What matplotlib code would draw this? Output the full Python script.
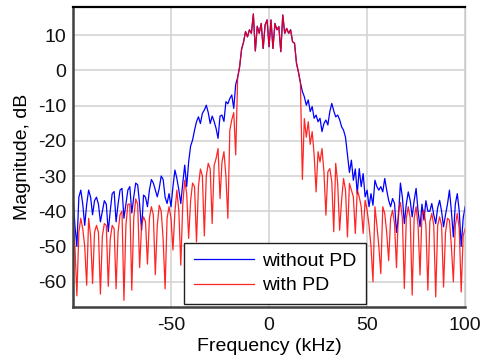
import numpy as np
import matplotlib
matplotlib.use("Agg")
import matplotlib.pyplot as plt

plt.rcParams['font.family'] = ['Liberation Sans', 'DejaVu Sans']
plt.rcParams['axes.unicode_minus'] = False

# frequency grid, kHz (1 kHz steps)
freq = np.arange(-100, 101)

# without PD, -100 .. -17 kHz
blue_left = [-35.4, -44, -50, -36, -34, -38, -44, -38, -34, -36,
             -41, -37, -36, -38, -43, -40, -37, -38, -45.8, -40,
             -35, -34.4, -43, -38, -34, -33.5, -42, -38, -34, -33,
             -40.5, -36, -32, -32.5, -38, -45.4, -35.4, -36, -38.7, -34,
             -31, -32, -34, -35.9, -33.5, -30, -31, -36, -37.8, -35,
             -38.7, -33, -28.3, -30.7, -34, -37.8, -32, -26.9, -33, -26,
             -21.5, -19.8, -17, -14.6, -13.2, -15.1, -12.2, -11.3, -9.9, -12,
             -15.1, -13, -14.5, -16.5, -19.3, -13, -12.7, -14.5, -8.9, -9.5,
             -8, -7, -10.8, -4]

# main band, -16 .. 16 kHz (both curves overlap here)
center = [-2, 1, 6, 8, 11, 9.5, 11.5, 10.5, 16, 5.5,
          12.5, 10.5, 13.3, 6.2, 12.9, 14.3, 6.7, 14.3, 6.2, 13.3,
          11.5, 12.4, 5.3, 15.7, 10.5, 11.9, 10.5, 11.5, 8.1, 7.7,
          2, -0.5, -3.5]

# without PD, 17 .. 100 kHz
blue_right = [-6, -7.5, -9.9, -8.4, -11.7, -10.3, -13.6, -12.7, -14.6, -13.6,
              -17.4, -15.1, -14.1, -15.5, -11.7, -9.4, -11.5, -13.2, -12.7, -14,
              -16, -17, -19, -24, -29, -25.5, -31.2, -28, -35, -27.9,
              -33, -29.3, -35.9, -34, -38.7, -35, -38.3, -31.2, -33, -34,
              -33, -34.5, -30.7, -34, -36.9, -38.7, -36.4, -37.8, -46, -41.6,
              -32, -36, -43.5, -38, -34.5, -37, -41.6, -37, -33.5, -40,
              -44.4, -38, -42.5, -37, -40, -40, -37.8, -41, -43.5, -39,
              -36.9, -40, -44.4, -41, -38, -34, -40, -47.3, -38, -35,
              -40, -50, -42, -38.7]

# with PD, -100 .. -17 kHz
red_left = [-42.5, -50, -64, -46, -42, -45, -50, -61, -42, -47,
            -60.5, -46, -44, -46, -63.5, -47, -43.5, -44, -61.3, -48,
            -44, -45, -62, -46, -41, -40, -65.3, -44, -38, -38,
            -62.4, -42, -36.5, -38, -56, -44, -41.6, -43, -55, -42,
            -38.7, -41, -58, -44, -38.3, -40, -48, -62, -42, -38.7,
            -42, -51, -40, -34, -40, -55.3, -38, -31.2, -35, -47.7,
            -37, -32, -33, -48.7, -33, -28, -30, -47, -30, -26.4,
            -28, -43.5, -27, -25, -22.2, -36.4, -26, -23.1, -30, -42,
            -17, -14, -12, -24]

# with PD, 17 .. 100 kHz
red_right = [-31, -13.7, -19, -14.6, -21, -17.4, -24, -34.5, -23.1, -26,
             -22.2, -28.8, -41.1, -28.8, -27.9, -31.6, -45.8, -26.4, -32, -45.4,
             -36.9, -30.7, -34, -47.3, -32.1, -34, -35.9, -46.3, -34, -35.9,
             -38.7, -46.3, -36.9, -39.7, -44, -50, -60, -38.7, -44, -50,
             -57.7, -38.7, -40.6, -46, -54, -42, -39.7, -43.5, -56, -40,
             -37.5, -42, -61.9, -42, -38.7, -42, -63.8, -42, -38.7, -44,
             -58.1, -41, -39.7, -44, -62.4, -43, -40.6, -44, -64.3, -44,
             -41.6, -44, -61.5, -46, -42, -42.5, -50, -60, -44, -40.6,
             -45, -62.9, -47, -44.9]

without_pd = np.array(blue_left + center + blue_right)
with_pd = np.array(red_left + center + red_right)

fs = 14
fig = plt.figure(figsize=(4.8, 3.63), dpi=100)
ax = fig.add_axes([0.152, 0.154, 0.817, 0.827])

ax.plot(freq, without_pd, color='#0000ff', lw=0.9, label='without PD')
ax.plot(freq, with_pd, color='#ff0000', lw=0.9, alpha=0.85, label='with PD')

ax.set_xlim(-100, 100)
ax.set_ylim(-67.2, 18)
ax.set_xticks([-50, 0, 50, 100])
ax.set_yticks([-60, -50, -40, -30, -20, -10, 0, 10])
ax.grid(True, color='#d4d4d4', lw=1.2)
ax.set_axisbelow(True)
ax.tick_params(length=0, labelsize=fs, colors='#111111')
ax.tick_params(axis='x', pad=7)
ax.tick_params(axis='y', pad=5)

ax.spines['top'].set_color('#000000')
ax.spines['top'].set_linewidth(1.6)
ax.spines['left'].set_color('#404040')
ax.spines['left'].set_linewidth(1.8)
ax.spines['bottom'].set_color('#404040')
ax.spines['bottom'].set_linewidth(1.8)
ax.spines['right'].set_color('#c8c8c8')
ax.spines['right'].set_linewidth(1.0)

ax.set_xlabel('Frequency (kHz)', fontsize=fs, labelpad=3)
ax.set_ylabel('Magnitude, dB', fontsize=fs, labelpad=5)

leg = ax.legend(loc='lower left', bbox_to_anchor=(0.283, 0.01), borderaxespad=0,
                fontsize=fs, handlelength=3.1, handletextpad=0.4, borderpad=0.5,
                labelspacing=0.35, fancybox=False, framealpha=1)
leg.get_frame().set_edgecolor('#202020')
leg.get_frame().set_linewidth(1.0)

fig.savefig('out.png', dpi=100)
